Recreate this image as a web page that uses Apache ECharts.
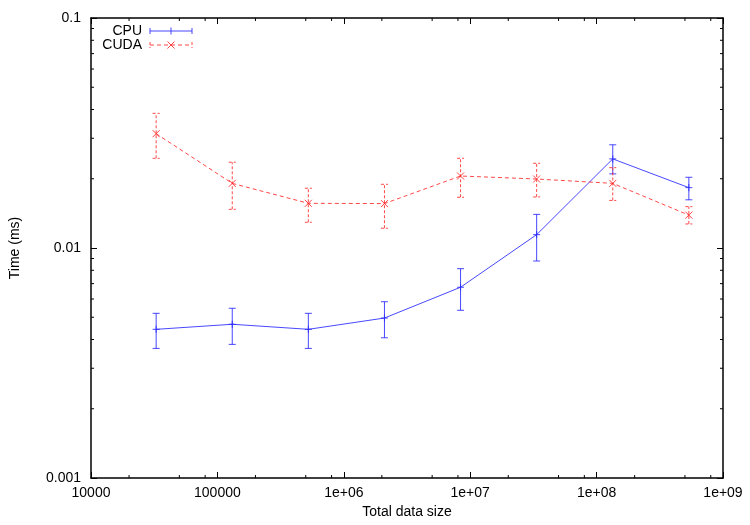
<!DOCTYPE html>
<html>
<head>
<meta charset="utf-8">
<script src="https://cdn.jsdelivr.net/npm/echarts@6/dist/echarts.min.js"></script>
<style>
html,body{margin:0;padding:0;background:#fff;}
#main{width:750px;height:525px;}
</style>
</head>
<body>
<div id="main"></div>
<script>
// data (x = total data size, y = time in ms)
var sizes = [32768, 131072, 524288, 2097152, 8388608, 33554432, 134217728, 536870912];
var cpuTime = [0.00443, 0.00466, 0.00443, 0.00496, 0.00675, 0.01143, 0.0244, 0.0183];
var cpuLow  = [0.00366, 0.00381, 0.00366, 0.00407, 0.00536, 0.00878, 0.0210, 0.0162];
var cpuHigh = [0.00520, 0.00547, 0.00520, 0.00584, 0.00813, 0.0140, 0.0281, 0.0203];
var cudaTime = [0.0314, 0.0191, 0.01564, 0.0156, 0.02056, 0.01995, 0.0191, 0.0139];
var cudaLow  = [0.02455, 0.01473, 0.01294, 0.01219, 0.01662, 0.01667, 0.0161, 0.01272];
var cudaHigh = [0.0385, 0.0236, 0.01819, 0.01892, 0.02455, 0.02335, 0.02235, 0.01513];

var xTickText = ['10000', '100000', '1e+06', '1e+07', '1e+08', '1e+09'];
var yTickText = ['0.001', '0.01', '0.1'];
var xMinorMult = [2, 5, 8];
var yMinorMult = [2, 3, 4, 5, 6, 7, 8, 9];

var FONT = '"Liberation Sans", Arial, sans-serif';
var BLUE = 'rgba(40,40,255,0.85)';
var RED = 'rgba(255,40,40,0.85)';
var myChart = echarts.init(document.getElementById('main'));

var xMinor = [], yMinor = [];
for (var d = 4; d < 9; d++) {
  for (var i = 0; i < xMinorMult.length; i++) xMinor.push([xMinorMult[i] * Math.pow(10, d), 0.01]);
}
for (var e = -3; e < -1; e++) {
  for (var j = 0; j < yMinorMult.length; j++) yMinor.push([1e5, yMinorMult[j] * Math.pow(10, e)]);
}

function pack(low, mid, high) {
  var out = [];
  for (var i = 0; i < sizes.length; i++) out.push([sizes[i], low[i], high[i], mid[i]]);
  return out;
}
function pairs(vals) {
  var out = [];
  for (var i = 0; i < sizes.length; i++) out.push([sizes[i], vals[i]]);
  return out;
}

function errBars(color, dashed, marker) {
  return function (params, api) {
    var lo = api.coord([api.value(0), api.value(1)]);
    var hi = api.coord([api.value(0), api.value(2)]);
    var md = api.coord([api.value(0), api.value(3)]);
    var st = {stroke: color, lineWidth: 1, lineDash: dashed ? [3, 2] : null};
    var w = 3.5, m = 3.5;
    var kids = [
      {type: 'line', shape: {x1: lo[0], y1: lo[1], x2: hi[0], y2: hi[1]}, style: st},
      {type: 'line', shape: {x1: lo[0] - w, y1: lo[1], x2: lo[0] + w, y2: lo[1]}, style: st},
      {type: 'line', shape: {x1: hi[0] - w, y1: hi[1], x2: hi[0] + w, y2: hi[1]}, style: st}
    ];
    var ms = {stroke: color, lineWidth: 1};
    if (marker === 'plus') {
      kids.push({type: 'line', shape: {x1: md[0] - m, y1: md[1], x2: md[0] + m, y2: md[1]}, style: ms});
      kids.push({type: 'line', shape: {x1: md[0], y1: md[1] - m, x2: md[0], y2: md[1] + m}, style: ms});
    } else {
      kids.push({type: 'line', shape: {x1: md[0] - m, y1: md[1] - m, x2: md[0] + m, y2: md[1] + m}, style: ms});
      kids.push({type: 'line', shape: {x1: md[0] - m, y1: md[1] + m, x2: md[0] + m, y2: md[1] - m}, style: ms});
    }
    return {type: 'group', children: kids};
  };
}

var axisLine = {show: true, lineStyle: {color: '#000', width: 1.5}};
var labelStyle = {color: '#000', fontSize: 14, fontFamily: FONT};

var options = {
  animation: false,
  grid: {left: 89, right: 27, top: 18, bottom: 47},
  xAxis: [
    {
      type: 'log', logBase: 10, min: 1e4, max: 1e9, position: 'bottom',
      axisLine: axisLine,
      axisTick: {show: true, inside: true, length: 6, lineStyle: {color: '#000'}},
      axisLabel: Object.assign({margin: 8, formatter: function (v) {
        return xTickText[Math.round(Math.log10(v)) - 4];
      }}, labelStyle),
      splitLine: {show: false},
      name: 'Total data size', nameLocation: 'middle', nameGap: 27,
      nameTextStyle: labelStyle
    },
    {
      type: 'log', logBase: 10, min: 1e4, max: 1e9, position: 'top',
      axisLine: axisLine,
      axisTick: {show: true, inside: true, length: 6, lineStyle: {color: '#000'}},
      axisLabel: {show: false},
      splitLine: {show: false}
    }
  ],
  yAxis: [
    {
      type: 'log', logBase: 10, min: 0.001, max: 0.1, position: 'left',
      axisLine: axisLine,
      axisTick: {show: true, inside: true, length: 6, lineStyle: {color: '#000'}},
      axisLabel: Object.assign({margin: 10, formatter: function (v) {
        return yTickText[Math.round(Math.log10(v)) + 3];
      }}, labelStyle),
      splitLine: {show: false},
      name: 'Time (ms)', nameLocation: 'middle', nameGap: 69, nameRotate: 90,
      nameTextStyle: labelStyle
    },
    {
      type: 'log', logBase: 10, min: 0.001, max: 0.1, position: 'right',
      axisLine: axisLine,
      axisTick: {show: true, inside: true, length: 6, lineStyle: {color: '#000'}},
      axisLabel: {show: false},
      splitLine: {show: false}
    }
  ],
  graphic: [
    {type: 'text', x: 142, y: 31, style: {text: 'CPU', x: 0, y: 0, textAlign: 'right', textVerticalAlign: 'middle', font: '14px ' + FONT, fill: '#000'}},
    {type: 'text', x: 142, y: 45, style: {text: 'CUDA', x: 0, y: 0, textAlign: 'right', textVerticalAlign: 'middle', font: '14px ' + FONT, fill: '#000'}},
    {type: 'group', x: 150, y: 31, children: [
      {type: 'line', shape: {x1: 0, y1: 0, x2: 42, y2: 0}, style: {stroke: BLUE, lineWidth: 1}},
      {type: 'line', shape: {x1: 0, y1: -3, x2: 0, y2: 3}, style: {stroke: BLUE, lineWidth: 1}},
      {type: 'line', shape: {x1: 42, y1: -3, x2: 42, y2: 3}, style: {stroke: BLUE, lineWidth: 1}},
      {type: 'line', shape: {x1: 21, y1: -3.5, x2: 21, y2: 3.5}, style: {stroke: BLUE, lineWidth: 1}}
    ]},
    {type: 'group', x: 150, y: 45, children: [
      {type: 'line', shape: {x1: 0, y1: 0, x2: 42, y2: 0}, style: {stroke: RED, lineWidth: 1, lineDash: [4, 3]}},
      {type: 'line', shape: {x1: 0, y1: -3, x2: 0, y2: 3}, style: {stroke: RED, lineWidth: 1, lineDash: [3, 2]}},
      {type: 'line', shape: {x1: 42, y1: -3, x2: 42, y2: 3}, style: {stroke: RED, lineWidth: 1, lineDash: [3, 2]}},
      {type: 'line', shape: {x1: 17.5, y1: -3.5, x2: 24.5, y2: 3.5}, style: {stroke: RED, lineWidth: 1}},
      {type: 'line', shape: {x1: 17.5, y1: 3.5, x2: 24.5, y2: -3.5}, style: {stroke: RED, lineWidth: 1}}
    ]}
  ],
  series: [
    {
      name: 'CPU', type: 'line', symbol: 'none', data: pairs(cpuTime),
      lineStyle: {color: BLUE, width: 1}
    },
    {
      name: 'CUDA', type: 'line', symbol: 'none', data: pairs(cudaTime),
      lineStyle: {color: RED, width: 1, type: [4, 3]}
    },
    {
      type: 'custom', data: pack(cpuLow, cpuTime, cpuHigh), encode: {x: 0, y: 3},
      renderItem: errBars(BLUE, false, 'plus')
    },
    {
      type: 'custom', data: pack(cudaLow, cudaTime, cudaHigh), encode: {x: 0, y: 3},
      renderItem: errBars(RED, true, 'cross')
    },
    {
      // minor ticks on the x axes (bottom and top)
      type: 'custom', data: xMinor, encode: {x: 0, y: 1}, silent: true,
      renderItem: function (params, api) {
        var p = api.coord([api.value(0), api.value(1)]);
        var cs = params.coordSys;
        var st = {stroke: '#000', lineWidth: 1};
        return {type: 'group', children: [
          {type: 'line', shape: {x1: p[0], y1: cs.y + cs.height, x2: p[0], y2: cs.y + cs.height - 3}, style: st},
          {type: 'line', shape: {x1: p[0], y1: cs.y, x2: p[0], y2: cs.y + 3}, style: st}
        ]};
      }
    },
    {
      // minor ticks on the y axes (left and right)
      type: 'custom', data: yMinor, encode: {x: 0, y: 1}, silent: true,
      renderItem: function (params, api) {
        var p = api.coord([api.value(0), api.value(1)]);
        var cs = params.coordSys;
        var st = {stroke: '#000', lineWidth: 1};
        return {type: 'group', children: [
          {type: 'line', shape: {x1: cs.x, y1: p[1], x2: cs.x + 3, y2: p[1]}, style: st},
          {type: 'line', shape: {x1: cs.x + cs.width, y1: p[1], x2: cs.x + cs.width - 3, y2: p[1]}, style: st}
        ]};
      }
    }
  ]
};

myChart.setOption(options);
</script>
</body>
</html>
